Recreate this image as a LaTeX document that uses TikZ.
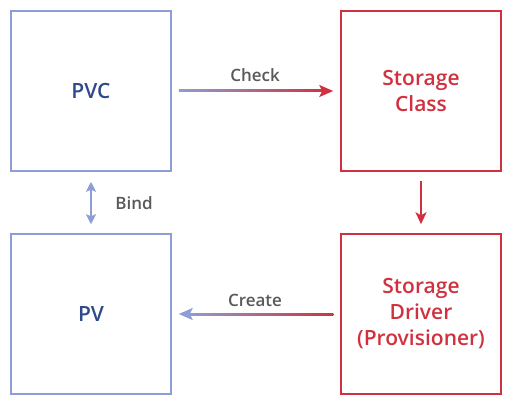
\documentclass[tikz,border=0pt]{standalone}
\usepackage{fontspec}
\setmainfont{Open Sans}
\newfontfamily\semib{Open Sans Semibold}
\usetikzlibrary{arrows.meta,calc}
\definecolor{pvblue}{HTML}{8E9DD6}
\definecolor{pvtext}{HTML}{2F4A8A}
\definecolor{scred}{HTML}{D1313F}
\definecolor{labelgray}{HTML}{595959}

\begin{document}
\begin{tikzpicture}[x=1pt,y=1pt,
  pvbox/.style={draw=pvblue, line width=1.5pt, minimum size=160pt, inner sep=0pt,
    text=pvtext, align=center, font=\fontsize{21}{26}\selectfont\semib},
  scbox/.style={pvbox, draw=scred, text=scred},
  lbl/.style={text=labelgray, font=\fontsize{17}{20}\selectfont\semib},
  tip/.style={-{Stealth[length=14pt,width=12pt,inset=3pt]}}]
\useasboundingbox (0,0) rectangle (517,405);
\node[pvbox] (pvc) at (91,314) {PVC};
\node[scbox] (sc) at (421,314) {Storage\\Class};
\node[pvbox] (pv) at (91,91) {PV};
\node[scbox] (sd) at (421,91) {Storage\\Driver\\(Provisioner)};
\node[lbl] (check) at (255,330) {Check};
\node[lbl] (create) at (255,105) {Create};
\node[lbl] (bind) at (134,202) {Bind};
% check: blue to red
\shade[left color=pvblue, right color=scred] ($(pvc.east)+(7,-1)$) rectangle ($(sc.west)+(-14,1)$);
\draw[scred, line width=2pt, tip] ($(sc.west)+(-16,0)$) -- ($(sc.west)+(-7,0)$);
% create: red to blue
\shade[left color=pvblue, right color=scred] ($(pv.east)+(14,-1)$) rectangle ($(sd.west)+(-7,1)$);
\draw[pvblue, line width=2pt, tip] ($(pv.east)+(16,0)$) -- ($(pv.east)+(7,0)$);
% bind and provisioning
\draw[pvblue, line width=2pt, {Stealth[length=10pt,width=10pt,inset=2pt]}-{Stealth[length=10pt,width=10pt,inset=2pt]}]
  ($(pvc.south)+(0,-10)$) -- ($(pv.north)+(0,9)$);
\draw[scred, line width=2pt, -{Stealth[length=12pt,width=11pt,inset=3pt]}]
  ($(sc.south)+(0,-9)$) -- ($(sd.north)+(0,9)$);
\end{tikzpicture}
\end{document}
